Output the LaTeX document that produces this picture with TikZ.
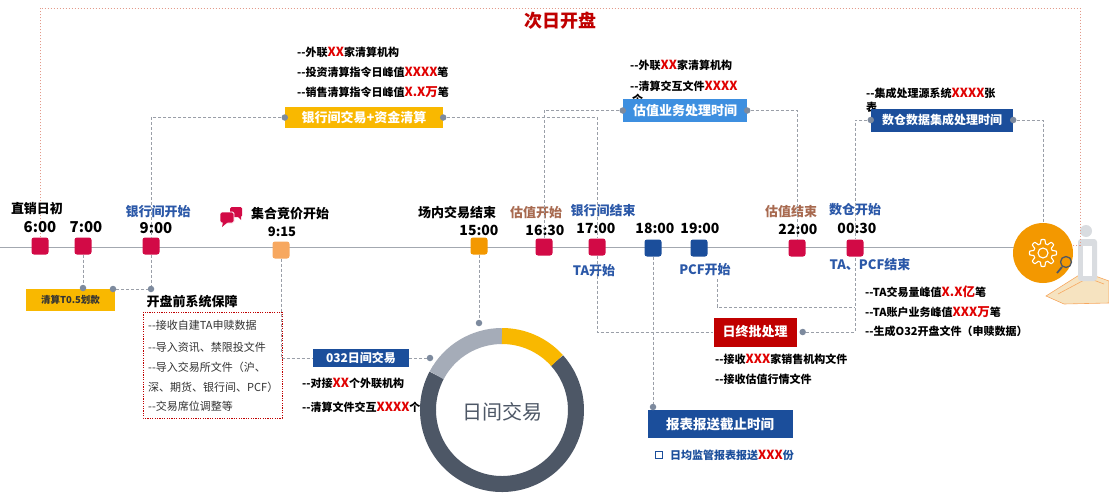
\documentclass[tikz,border=0pt]{standalone}
\usepackage{fontspec}
\setmainfont{Noto Sans CJK SC}
\usepackage{xcolor}
\usepackage{tikz}
\usetikzlibrary{calc}
\definecolor{crim}{HTML}{D20A46}
\definecolor{navy}{HTML}{1B4E9B}
\definecolor{sky}{HTML}{3D8FE0}
\definecolor{gold}{HTML}{F9B800}
\definecolor{amber}{HTML}{F39800}
\definecolor{peach}{HTML}{F7A860}
\definecolor{darkred}{HTML}{C00000}
\definecolor{hl}{HTML}{E00000}
\definecolor{labblue}{HTML}{2B58A8}
\definecolor{labbrown}{HTML}{A86A50}
\definecolor{axisgray}{HTML}{A3A8B0}
\definecolor{linkgray}{HTML}{9A9FA8}
\definecolor{dotgray}{HTML}{7D8A9E}
\definecolor{rimred}{HTML}{E39A8A}
\definecolor{ringdark}{HTML}{4D5766}
\definecolor{ringlight}{HTML}{A5ACB8}
\definecolor{itemgray}{HTML}{333333}
\definecolor{boardtan}{HTML}{F6E3C0}
\definecolor{figgray}{HTML}{D9DCE0}
\newcommand{\redx}[1]{\textcolor{hl}{\fontsize{12.5}{12.5}\selectfont #1}}
\newcommand{\dd}{-{}-}
\tikzset{
  slot/.style={rounded corners=2.5pt, minimum size=17pt, inner sep=0pt},
  link/.style={draw=linkgray, dash pattern=on 3pt off 2pt, line width=0.7pt},
  rim/.style={draw=rimred, dash pattern=on 1.5pt off 1.5pt, line width=0.7pt},
  dot/.style={circle, fill=dotgray, inner sep=0pt, minimum size=6.5pt},
  hour/.style={font=\fontsize{15}{15}\selectfont\bfseries, text=black, inner sep=0pt},
  evt/.style={font=\fontsize{13}{13}\selectfont\bfseries, inner sep=0pt},
  item/.style={anchor=west, font=\fontsize{11}{11}\selectfont\bfseries, inner sep=0pt},
  note/.style={anchor=west, font=\fontsize{11}{11}\selectfont, text=itemgray, inner sep=0pt},
  stagebox/.style={text=white, font=\fontsize{13}{13}\selectfont\bfseries, inner sep=0pt}
}

\begin{document}
\begin{tikzpicture}[x=1pt,y=-1pt]
  \useasboundingbox[fill=white] (0,0) rectangle (1109,503);

  % time axis
  \draw[draw=axisgray, line width=1pt] (0,247) -- (1015,247);

  \node[slot, fill=crim] (t600) at (40,246) {};
  \node[slot, fill=crim] (t700) at (83,246) {};
  \node[slot, fill=crim] (t900) at (151,246) {};
  \node[slot, fill=peach] (t915) at (281,250) {};
  \node[slot, fill=amber] (t1500) at (479,246) {};
  \node[slot, fill=crim] (t1630) at (544,247) {};
  \node[slot, fill=crim] (t1700) at (597,247) {};
  \node[slot, fill=navy] (t1800) at (653,248) {};
  \node[slot, fill=navy] (t1900) at (699,248) {};
  \node[slot, fill=crim] (t2200) at (797,248) {};
  \node[slot, fill=crim] (t0030) at (855,248) {};

  % gear at the end of the day
  \node[circle, fill=amber, minimum size=60pt, inner sep=0pt] (gear) at (1043,253) {};
  \begin{scope}[shift={(gear.center)}]
    \draw[white, line width=1.1pt] (0,0) circle (5);
    \draw[white, line width=1.1pt, line join=round]
      plot[domain=0:360, samples=241] (\x:{11.5+2*max(-1,min(1,2*cos(8*\x)))}) -- cycle;
  \end{scope}

  % little figure with magnifier
  \filldraw[fill=boardtan, draw=peach, line width=0.6pt] (1046,296) -- (1084,272) -- (1109,281) -- (1109,303) -- (1064,304) -- cycle;
  \draw[peach, line width=0.6pt] (1058,294) -- (1088,278) -- (1104,284);
  \fill[figgray] (1086,231) circle (6);
  \fill[figgray, rounded corners=3pt] (1078,239) rectangle (1097,281);
  \fill[white] (1083,246) rectangle (1092,276);
  \draw[ringdark, line width=1.3pt] (1066,262) circle (5.5);
  \draw[ringdark, line width=1.8pt] (1062,267) -- (1057,273);

  % next-day frame
  \node[font=\fontsize{18}{18}\selectfont\bfseries, text=darkred] (nextday) at (560,21) {次日开盘};
  \draw[rim] (t600.north) -- (40,8) -- (1080,8) |- (gear.15);

  % labels above the axis
  \node[evt] (l600) at (37,209) {直销日初};
  \node[hour] (h600) at (40,227) {6:00};
  \node[hour] (h700) at (86,227) {7:00};
  \node[evt, text=labblue] (l900) at (158,212) {银行间开始};
  \node[hour] (h900) at (156,228) {9:00};
  \node[evt] (l915) at (290,214) {集合竞价开始};
  \node[hour, font=\fontsize{13}{13}\selectfont\bfseries] (h915) at (282,232) {9:15};
  \node[evt] (l1500) at (457,213) {场内交易结束};
  \node[hour, font=\fontsize{14}{14}\selectfont\bfseries] (h1500) at (479,230) {15:00};
  \node[evt, text=labbrown] (l1630) at (536,213) {估值开始};
  \node[hour, font=\fontsize{14}{14}\selectfont\bfseries] (h1630) at (545,230) {16:30};
  \node[evt, text=labblue] (l1700) at (603,211) {银行间结束};
  \node[hour, font=\fontsize{14}{14}\selectfont\bfseries] (h1700) at (596,228) {17:00};
  \node[hour, font=\fontsize{14}{14}\selectfont\bfseries] (h1800) at (655,228) {18:00};
  \node[hour, font=\fontsize{14}{14}\selectfont\bfseries] (h1900) at (700,228) {19:00};
  \node[evt, text=labbrown] (l2200) at (791,212) {估值结束};
  \node[hour, font=\fontsize{14}{14}\selectfont\bfseries] (h2200) at (798,229) {22:00};
  \node[evt, text=labblue] (l0030) at (855,210) {数仓开始};
  \node[hour, font=\fontsize{14}{14}\selectfont\bfseries] (h0030) at (857,228) {00:30};

  % labels below the axis
  \node[evt, text=labblue] (lta) at (594,271) {TA开始};
  \node[evt, text=labblue] (lpcf) at (705,270) {PCF开始};
  \node[evt, text=labblue] (lend) at (870,265) {TA、PCF结束};

  % chat icon
  \begin{scope}[shift={(231,216)}]
    \fill[crim, rounded corners=1.5pt] (-1,-9) rectangle (11,1);
    \fill[crim] (6,0) -- (10,4) -- (10,0) -- cycle;
    \filldraw[fill=crim, draw=white, line width=0.8pt, rounded corners=1.5pt] (-11,-4) rectangle (3,7);
    \fill[crim] (-8,6) -- (-9,11) -- (-3,6) -- cycle;
  \end{scope}

  % interbank trading and clearing
  \node[item] at (297,52) {\dd 外联\redx{XX}家清算机构};
  \node[item] at (297,72) {\dd 投资清算指令日峰值\redx{XXXX}笔};
  \node[item] at (297,92) {\dd 销售清算指令日峰值\redx{X.X万}笔};
  \node[stagebox, fill=gold, minimum width=158pt, minimum height=21pt] (bank) at (364,117.5) {银行间交易+资金清算};
  \node[dot] (bankL) at (bank.west) {};
  \node[dot] (bankR) at (bank.east) {};
  \draw[link] (bankL) -| (t900);
  \draw[link] (bankR) -| (t1700);

  % valuation
  \node[item] at (630,65) {\dd 外联\redx{XX}家清算机构};
  \node[item] at (630,86) {\dd 清算交互文件\redx{XXXX}};
  \node[item] (valrest) at (632,99) {个};
  \node[stagebox, fill=sky, minimum width=124pt, minimum height=23pt] (val) at (685,110.5) {估值业务处理时间};
  \node[dot] (valL) at (val.west) {};
  \node[dot] (valR) at (val.east) {};
  \draw[link] (valL) -| (t1630);
  \draw[link] (valR) -| (t2200);

  % data warehouse
  \node[item] at (866,93) {\dd 集成处理源系统\redx{XXXX}张};
  \node[item] (dwrest) at (866,107) {表};
  \node[stagebox, fill=navy, font=\fontsize{12}{12}\selectfont\bfseries, minimum width=142pt, minimum height=23pt] (dw) at (942,120) {数仓数据集成处理时间};
  \node[dot] (dwL) at (dw.west) {};
  \node[dot] (dwR) at (dw.east) {};
  \draw[link] (dwL) -| (t0030);
  \draw[link] (dwR) -| (gear);

  % T0.5 transfer and pre-open checks
  \node[fill=gold, font=\fontsize{9.5}{9.5}\selectfont\bfseries, text=itemgray, minimum width=89pt, minimum height=22pt, inner sep=0pt] (t05) at (70.5,300) {清算T0.5划款};
  \node[dot] (d700) at (83,288) {};
  \node[dot] (dt05) at (113,289) {};
  \node[dot] (d900) at (151,289) {};
  \draw[link] (t700) -- (d700);
  \draw[link] (t900) -- (d900);
  \draw[link] (dt05) -- (d900);

  \node[evt, font=\fontsize{13}{13}\selectfont\bfseries] (pre) at (192,302) {开盘前系统保障};
  \draw[draw=darkred, dash pattern=on 1.2pt off 1.2pt, line width=0.7pt] (143,312) rectangle (282,418);
  \node[note] at (148,325) {\dd 接收自建TA申赎数据};
  \node[note] at (148,347) {\dd 导入资讯、禁限投文件};
  \node[note] at (148,367) {\dd 导入交易所文件（沪、};
  \node[note] at (148,387) {深、期货、银行间、PCF）};
  \node[note] at (148,406) {\dd 交易席位调整等};

  % intraday ring
  \begin{scope}[shift={(502,410)}, yscale=-1]
    \draw[ringdark, line width=16pt] (152:74) arc[start angle=152, end angle=402, radius=74];
    \draw[ringlight, line width=16pt] (90:74) arc[start angle=90, end angle=152, radius=74];
    \draw[gold, line width=16pt] (42:74) arc[start angle=42, end angle=90, radius=74];
  \end{scope}
  \node[font=\fontsize{20}{20}\selectfont, text=ringdark] (ringtxt) at (502,412) {日间交易};
  \node[dot] (ringT) at (479,323) {};
  \node[dot] (ringL) at (430,358) {};
  \draw[link] (t1500) -- (ringT);

  \node[stagebox, fill=navy, font=\fontsize{12}{12}\selectfont\bfseries, minimum width=96pt, minimum height=18pt] (o32) at (361,358) {032日间交易};
  \draw[link] (t915) |- (o32);
  \draw[link] (o32) -- (ringL);
  \node[item] at (302,383) {\dd 对接\redx{XX}个外联机构};
  \node[item] at (302,407) {\dd 清算文件交互\redx{XXXX}个};

  % end-of-day batch
  \node[stagebox, fill=darkred, minimum width=83pt, minimum height=29pt] (eod) at (755,332) {日终批处理};
  \node[dot] (eodR) at ($(eod.east)+(6,0)$) {};
  \draw[link] (t1700) |- (eod);
  \draw[link] (eodR) -| (t0030);
  \coordinate (pcfA) at ($(lpcf.south)+(12,3)$);
  \coordinate (pcfB) at (t0030 |- 0,307);
  \draw[link] (pcfA) |- (pcfB);
  \node[item] at (865,292) {\dd TA交易量峰值\redx{X.X亿}笔};
  \node[item] at (865,312) {\dd TA账户业务峰值\redx{XXX万}笔};
  \node[item] at (865,331) {\dd 生成O32开盘文件（申赎数据）};
  \node[item] at (715,359) {\dd 接收\redx{XXX}家销售机构文件};
  \node[item] at (715,379) {\dd 接收估值行情文件};

  % reporting deadline
  \node[stagebox, fill=navy, font=\fontsize{13.5}{13.5}\selectfont\bfseries, minimum width=145pt, minimum height=28pt] (rpt) at (720,424) {报表报送截止时间};
  \node[dot] (rptD) at (653,407) {};
  \draw[link] (t1800) -- (rptD);
  \node[draw=navy, line width=1.3pt, minimum size=7pt, inner sep=0pt] (sq) at (659,455) {};
  \node[item, font=\fontsize{11}{11}\selectfont\bfseries, text=navy] at (670,455) {日均监管报表报送\redx{XXX}份};
\end{tikzpicture}
\end{document}
